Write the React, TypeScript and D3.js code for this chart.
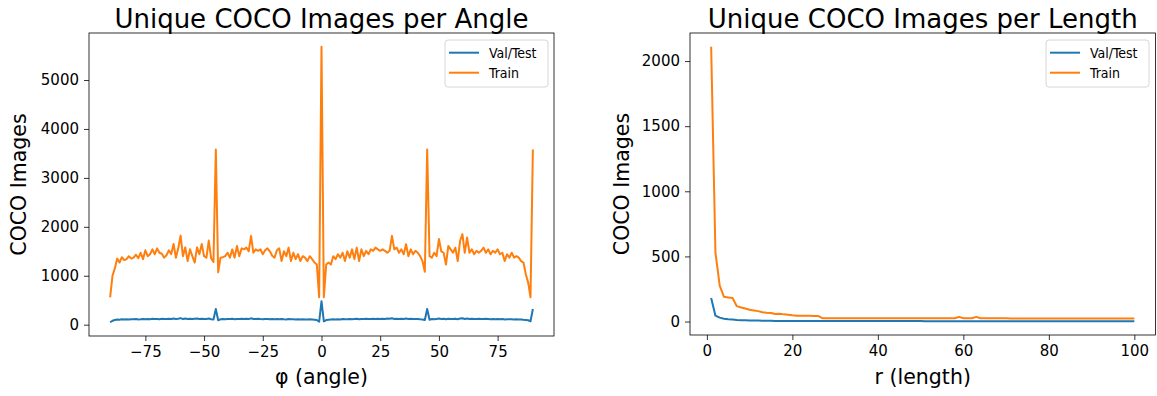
import React, { useEffect, useRef } from 'react';
import * as d3 from 'd3';

const W = 1157;
const H = 396;

// φ from -90 to 90, one value per degree
const angles = d3.range(-90, 91);

const angleTrain = [
  560, 1000, 1150, 1350, 1270, 1380, 1320, 1340, 1400, 1350, // -90..-81
  1370, 1430, 1360, 1470, 1340, 1520, 1400, 1440, 1540, 1440, // -80..-71
  1560, 1470, 1450, 1370, 1420, 1520, 1440, 1650, 1370, 1560, // -70..-61
  1820, 1400, 1580, 1300, 1540, 1400, 1270, 1580, 1440, 1650, // -60..-51
  1400, 1370, 1720, 1360, 1280, 3580, 1070, 1370, 1380, 1400, // -50..-41
  1470, 1370, 1540, 1370, 1610, 1400, 1560, 1540, 1575, 1500, // -40..-31
  1815, 1470, 1540, 1510, 1540, 1440, 1520, 1560, 1500, 1410, // -30..-21
  1370, 1520, 1560, 1300, 1500, 1400, 1575, 1300, 1470, 1340, // -20..-11
  1440, 1300, 1400, 1370, 1300, 1400, 1340, 1270, 1230, 560,  // -10..-1
  5680, // 0
  560, 1230, 1270, 1230, 1400, 1340, 1440, 1370, 1470, 1300,  // 1..10
  1500, 1370, 1540, 1340, 1575, 1300, 1540, 1400, 1510, 1440, // 11..20
  1540, 1510, 1575, 1540, 1510, 1540, 1510, 1470, 1510, 1815, // 21..30
  1540, 1575, 1470, 1540, 1440, 1645, 1400, 1540, 1440, 1510, // 31..40
  1470, 1400, 1300, 1080, 3580, 1400, 1370, 1470, 1400, 1750, // 41..50
  1500, 1470, 1230, 1610, 1540, 1470, 1575, 1300, 1710, 1850, // 51..60
  1470, 1780, 1470, 1540, 1440, 1510, 1470, 1510, 1575, 1470, // 61..70
  1540, 1440, 1510, 1470, 1540, 1440, 1470, 1300, 1440, 1370, // 71..80
  1470, 1370, 1400, 1370, 1300, 1270, 1030, 860, 560, 3580,   // 81..90
];

const angleVal = [
  50, 80, 95, 105, 100, 110, 105, 110, 108, 112,
  110, 115, 108, 112, 118, 110, 115, 112, 120, 115,
  118, 112, 120, 115, 118, 122, 115, 125, 118, 120,
  135, 115, 128, 118, 122, 115, 120, 125, 118, 120,
  115, 118, 125, 112, 105, 320, 90, 110, 115, 112,
  118, 115, 120, 112, 118, 115, 122, 118, 120, 115,
  130, 118, 115, 120, 115, 112, 118, 115, 110, 118,
  112, 115, 110, 118, 112, 108, 115, 110, 112, 108,
  110, 105, 112, 108, 105, 110, 105, 100, 95, 60,
  480,
  70, 95, 100, 105, 110, 105, 112, 108, 115, 110,
  112, 118, 110, 115, 120, 112, 118, 115, 120, 118,
  115, 120, 118, 122, 115, 120, 118, 125, 120, 130,
  118, 122, 115, 120, 118, 125, 115, 120, 118, 115,
  118, 112, 108, 95, 320, 100, 115, 112, 118, 125,
  118, 122, 110, 120, 118, 115, 122, 112, 125, 132,
  118, 125, 115, 120, 118, 115, 120, 118, 115, 120,
  118, 112, 115, 110, 118, 112, 115, 108, 112, 110,
  112, 108, 110, 105, 108, 100, 95, 90, 70, 320,
];

// r from 1 to 100
const lengths = d3.range(1, 101);

const lengthTrain = [
  2110, 530, 275, 190, 185, 180, 118, 108, 100, 90,
  85, 80, 72, 68, 66, 58, 60, 55, 52, 48,
  45, 45, 44, 44, 43, 43, 26, 26, 25, 25,
  25, 25, 25, 25, 25, 25, 25, 25, 25, 25,
  25, 25, 25, 25, 25, 25, 25, 25, 25, 25,
  25, 25, 25, 25, 25, 25, 25, 25, 36, 25,
  25, 25, 36, 25, 25, 25, 25, 25, 25, 25,
  24, 24, 24, 24, 24, 24, 24, 24, 24, 24,
  24, 24, 24, 24, 24, 24, 24, 24, 24, 24,
  24, 24, 24, 24, 24, 24, 24, 24, 24, 24,
];

const lengthVal = [
  180, 45, 30, 22, 18, 15, 12, 10, 9, 8,
  7, 7, 6, 6, 6, 5, 5, 5, 5, 5,
  4, 4, 4, 4, 4, 4, 4, 4, 4, 4,
  4, 4, 4, 4, 4, 4, 4, 4, 4, 4,
  4, 4, 4, 4, 4, 4, 4, 4, 4, 4,
  3, 3, 3, 3, 3, 3, 3, 3, 3, 3,
  3, 3, 3, 3, 3, 3, 3, 3, 3, 3,
  3, 3, 3, 3, 3, 3, 3, 3, 3, 3,
  2, 2, 2, 2, 2, 2, 2, 2, 2, 2,
  2, 2, 2, 2, 2, 2, 2, 2, 2, 2,
];

const angleXTicks = [-75, -50, -25, 0, 25, 50, 75];
const angleYTicks = [0, 1000, 2000, 3000, 4000, 5000];
const lengthXTicks = [0, 20, 40, 60, 80, 100];
const lengthYTicks = [0, 500, 1000, 1500, 2000];

const seriesNames = ['Val/Test', 'Train'];
const colors = ['#1f77b4', '#ff7f0e'];
const FONT = 'DejaVu Sans, sans-serif';

interface PanelCfg {
  left: number; right: number; top: number; bottom: number;
  xs: number[]; series: number[][];
  xDomain: [number, number]; yDomain: [number, number];
  xTicks: number[]; yTicks: number[];
  title: string; xLabel: string; yLabelX: number; legendX: number;
}

const fmt = (d: number) => (d < 0 ? '\u2212' + Math.abs(d) : String(d));

function drawPanel(svg: d3.Selection<SVGSVGElement, unknown, null, undefined>, c: PanelCfg) {
  const x = d3.scaleLinear().domain(c.xDomain).range([c.left, c.right]);
  const y = d3.scaleLinear().domain(c.yDomain).range([c.bottom, c.top]);
  const g = svg.append('g');

  // lines
  c.series.forEach((vals, si) => {
    const line = d3.line<number>()
      .x((d, i) => x(c.xs[i]))
      .y(d => y(d));
    g.append('path')
      .datum(vals)
      .attr('fill', 'none')
      .attr('stroke', colors[si])
      .attr('stroke-width', 2)
      .attr('stroke-linejoin', 'round')
      .attr('d', line);
  });

  // axes
  const xAxis = g.append('g')
    .attr('transform', `translate(0,${c.bottom})`)
    .call(d3.axisBottom(x).tickValues(c.xTicks).tickSize(5).tickPadding(5).tickFormat(d => fmt(+d)));
  const yAxis = g.append('g')
    .attr('transform', `translate(${c.left},0)`)
    .call(d3.axisLeft(y).tickValues(c.yTicks).tickSize(5).tickPadding(5).tickFormat(d => fmt(+d)));
  [xAxis, yAxis].forEach(a => {
    a.select('.domain').remove();
    a.selectAll('line').attr('stroke', '#000').attr('stroke-width', 0.8);
    a.selectAll('text').attr('fill', '#000').attr('font-size', 15).attr('font-family', FONT);
  });

  // frame
  g.append('rect')
    .attr('x', c.left).attr('y', c.top)
    .attr('width', c.right - c.left).attr('height', c.bottom - c.top)
    .attr('fill', 'none').attr('stroke', '#000').attr('stroke-width', 0.8);

  // title + labels
  const cx = (c.left + c.right) / 2;
  g.append('text').attr('x', cx).attr('y', 28).attr('text-anchor', 'middle')
    .attr('font-size', 26).attr('font-family', FONT).text(c.title);
  g.append('text').attr('x', cx).attr('y', 384).attr('text-anchor', 'middle')
    .attr('font-size', 20.5).attr('font-family', FONT).text(c.xLabel);
  g.append('text')
    .attr('transform', `translate(${c.yLabelX},${(c.top + c.bottom) / 2}) rotate(-90)`)
    .attr('text-anchor', 'middle')
    .attr('font-size', 20.5).attr('font-family', FONT).text('COCO Images');

  // legend
  const lg = g.append('g').attr('transform', `translate(${c.legendX},40)`);
  lg.append('rect').attr('width', 103).attr('height', 47).attr('rx', 3)
    .attr('fill', 'white').attr('fill-opacity', 0.8)
    .attr('stroke', '#d6d6d6').attr('stroke-width', 1);
  seriesNames.forEach((name, i) => {
    const ly = 12.7 + i * 20;
    lg.append('line').attr('x1', 4).attr('x2', 34).attr('y1', ly).attr('y2', ly)
      .attr('stroke', colors[i]).attr('stroke-width', 2);
    lg.append('text').attr('x', 44).attr('y', ly + 5)
      .attr('font-size', 14).attr('font-family', 'DejaVu Sans Condensed, DejaVu Sans, sans-serif')
      .attr('font-stretch', 'condensed')
      .text(name);
  });
}

const App: React.FC = () => {
  const svgRef = useRef<SVGSVGElement>(null);

  useEffect(() => {
    if (!svgRef.current) return;
    const svg = d3.select(svgRef.current);
    svg.selectAll('*').remove();

    svg.append('rect').attr('width', W).attr('height', H).attr('fill', 'white');

    drawPanel(svg, {
      left: 89, right: 554, top: 33, bottom: 336,
      xs: angles, series: [angleVal, angleTrain],
      xDomain: [-99, 99], yDomain: [-231, 5961],
      xTicks: angleXTicks, yTicks: angleYTicks,
      title: 'Unique COCO Images per Angle', xLabel: '\u03c6 (angle)',
      yLabelX: 26, legendX: 445,
    });

    drawPanel(svg, {
      left: 690, right: 1155.5, top: 33, bottom: 335,
      xs: lengths, series: [lengthVal, lengthTrain],
      xDomain: [-3.95, 104.95], yDomain: [-103.4, 2215.4],
      xTicks: lengthXTicks, yTicks: lengthYTicks,
      title: 'Unique COCO Images per Length', xLabel: 'r (length)',
      yLabelX: 629, legendX: 1046,
    });
  }, []);

  return (
    <div style={{ position: 'absolute', left: 0, top: 0, width: W, height: H, background: 'white' }}>
      <svg ref={svgRef} width={W} height={H} style={{ display: 'block' }} />
    </div>
  );
};

export default App;
